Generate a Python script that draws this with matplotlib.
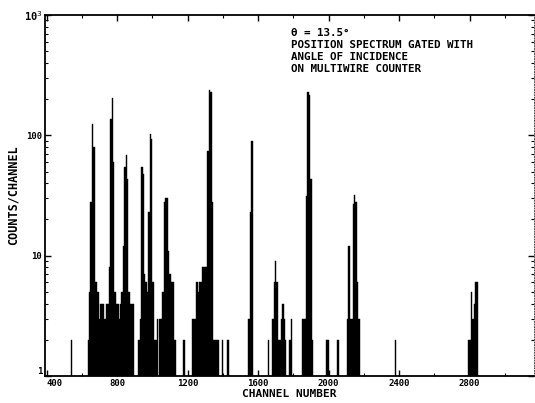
import matplotlib
matplotlib.use("Agg")
import matplotlib.pyplot as plt
import numpy as np

# channel (bin start, 8 channels wide) and counts for every non-empty bin
channels = [536,
            632, 640, 648, 656, 664, 672, 680, 688,
            696, 704, 712, 720, 728, 736, 744,
            752, 760, 768, 776, 784, 792, 800, 808,
            816, 824, 832, 840, 848, 856, 864, 872, 880, 888,
            920, 928, 936, 944, 952, 960, 968,
            976, 984, 992, 1000, 1008, 1016, 1024,
            1040, 1048, 1056, 1064, 1072, 1080, 1088, 1096, 1104, 1112, 1120,
            1128, 1176,
            1224, 1232, 1240, 1248, 1256, 1264, 1272, 1280, 1288, 1296, 1304,
            1312, 1320, 1328, 1336, 1344, 1352, 1360, 1368, 1392, 1424,
            1544, 1552, 1560,
            1656, 1680, 1688, 1696, 1704, 1712, 1720, 1728, 1736, 1744, 1752,
            1776, 1784,
            1848, 1856, 1864, 1872, 1880, 1888, 1896, 1904,
            1984, 1992, 2048,
            2104, 2112, 2120, 2128, 2136, 2144, 2152, 2160, 2168,
            2376,
            2792, 2800, 2808, 2816, 2824, 2832, 2840]
counts = [2,
          2, 5, 28, 123, 80, 6, 6, 5,
          3, 4, 4, 4, 3, 4, 4,
          8, 136, 203, 60, 5, 4, 4, 3,
          4, 5, 12, 55, 68, 43, 5, 4, 4, 4,
          2, 3, 54, 48, 7, 6, 5,
          23, 102, 93, 6, 2, 2, 3,
          3, 3, 5, 28, 30, 30, 11, 7, 6, 6, 2,
          2, 2,
          3, 3, 3, 6, 5, 6, 6, 8, 8, 8, 8,
          74, 240, 230, 28, 2, 2, 2, 2, 2, 2,
          3, 23, 89,
          2, 3, 6, 9, 6, 2, 2, 3, 4, 3, 2,
          2, 3,
          3, 3, 3, 31, 230, 215, 43, 2,
          2, 2, 2,
          3, 12, 3, 3, 27, 32, 28, 6, 3,
          2,
          2, 2, 5, 3, 4, 6, 6]

x_ticks = [400, 800, 1200, 1600, 2000, 2400, 2800]
y_ticks = [1, 10, 100, 1000]
y_ticklabels = ["1", "10", "100", "10$^3$"]
note = ["\u03b8 = 13.5\u00b0",
        "POSITION SPECTRUM GATED WITH",
        "ANGLE OF INCIDENCE",
        "ON MULTIWIRE COUNTER"]

mono = "DejaVu Sans Mono"

fig = plt.figure(figsize=(5.35, 4.03), dpi=100)
ax = fig.add_axes([0.084, 0.067, 0.914, 0.896])

ax.bar(channels, counts, width=8, align="edge", color="black",
       edgecolor="black", linewidth=0.3, log=True)

ax.set_yscale("log")
ax.set_ylim(1, 1000)
ax.set_xlim(390, 3165)

ax.set_xticks(x_ticks)
ax.set_xticklabels([str(t) for t in x_ticks], family=mono, fontsize=6.5,
                   fontweight="bold")
ax.set_xticks(np.arange(400, 3200, 200), minor=True)
ax.set_yticks(y_ticks)
ax.set_yticklabels(y_ticklabels, family=mono, fontsize=6.5, fontweight="bold")
# lift the "1" a little so it clears the "400" below it
ax.get_yticklabels()[0].set_va("bottom")
ax.get_yticklabels()[-1].set_fontsize(7.5)
ax.get_xticklabels()[0].set_ha("left")

ax.tick_params(axis="both", which="major", direction="in", length=4,
               width=1, pad=2)
ax.tick_params(axis="both", which="minor", direction="in", length=2.5,
               width=0.8)
ax.tick_params(axis="x", which="both", top=True)
ax.tick_params(axis="y", which="both", right=True)
ax.yaxis.set_minor_formatter(matplotlib.ticker.NullFormatter())

for side in ["left", "bottom", "top"]:
    ax.spines[side].set_linewidth(1.3)
ax.spines["right"].set_linestyle(":")
ax.spines["right"].set_linewidth(0.7)
ax.spines["right"].set_color("#555555")

ax.set_xlabel("CHANNEL NUMBER", family=mono, fontsize=8, fontweight="bold",
              labelpad=1)
ax.set_ylabel("COUNTS/CHANNEL", family=mono, fontsize=8.5, fontweight="bold",
              labelpad=3)

for i, line in enumerate(note):
    fig.text(291 / 535, 1 - (33 + 12 * i) / 403, line, family=mono,
             fontsize=7.8, fontweight="bold", va="center", ha="left")

fig.savefig("out.png", dpi=100)
